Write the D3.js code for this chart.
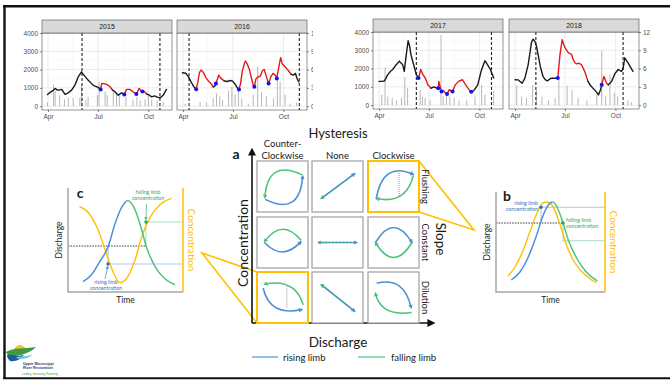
<!DOCTYPE html>
<html>
<head>
<meta charset="utf-8">
<script src="https://cdn.jsdelivr.net/npm/d3@7"></script>
<style>
  body { margin: 0; background: #fff; }
  svg { display: block; }
</style>
</head>
<body>
<script>
const W = 670, H = 380;
const ggFont = "Liberation Sans, Arial, sans-serif";
const dgFont = "Lato, Open Sans, sans-serif";

// ---------- hydrograph data (day of year, discharge) ----------
const monthDays = [91, 182, 274];
const monthLabels = ["Apr", "Jul", "Oct"];
const flowTicks = [0, 1000, 2000, 3000, 4000];
const rainTicks = [0, 3, 6, 9, 12];

const days2015 = [90, 96, 101, 104, 107, 110, 116, 122, 128, 134, 140, 146, 152, 155, 158, 164, 173, 182, 187, 189, 193, 198, 204, 208, 213, 219, 225, 230, 234, 240, 246, 252, 257, 262, 266, 271, 276, 280, 285, 289, 295, 301, 307];
const flow2015 = [640, 780, 877, 970, 900, 877, 915, 640, 730, 877, 1150, 1600, 1880, 1750, 1640, 1425, 1150, 1025, 915, 1240, 1230, 1190, 1060, 900, 785, 600, 730, 640, 915, 915, 785, 660, 970, 800, 820, 660, 600, 510, 560, 510, 455, 600, 915];
const red2015 = [[187, 206], [230, 272]];
const blue2015 = [187, 230, 252, 263];
const rainDays2015 = [90, 101, 104, 112, 121, 128, 137, 149, 152, 160, 164, 181, 184, 195, 199, 210, 216, 221, 233, 246, 253, 259, 268, 274, 280, 290, 301];
const rain2015 = [0.6, 3.5, 2.5, 1.8, 1.1, 1.4, 1.3, 1.4, 3.4, 1.0, 1.5, 1.8, 4.0, 2.4, 1.8, 2.6, 2.2, 1.8, 1.5, 1.1, 1.5, 0.9, 1.1, 1.8, 1.1, 0.9, 0.7];
const dashed2015 = [153, 295];

const days2016 = [90, 96, 101, 106, 111, 115, 118, 121, 124, 128, 133, 138, 143, 146, 149, 151, 154, 156, 159, 163, 166, 171, 176, 181, 186, 190, 193, 196, 199, 203, 205, 208, 212, 216, 219, 221, 224, 228, 232, 236, 239, 243, 247, 251, 255, 259, 262, 266, 269, 272, 277, 283, 288, 292, 296, 299, 302];
const flow2016 = [1825, 1800, 1600, 1300, 1050, 930, 1300, 1850, 1970, 1850, 1550, 1350, 1200, 1050, 1100, 1240, 1500, 1700, 1560, 1450, 1380, 1350, 1400, 1380, 1200, 1000, 915, 1250, 1900, 2350, 2470, 2300, 2000, 1500, 1150, 1060, 1500, 1600, 1650, 1950, 2010, 1600, 1240, 1600, 1790, 1700, 1515, 2200, 2650, 2300, 2150, 1950, 1740, 1700, 1790, 1500, 1330];
const red2016 = [[115, 145], [151, 165], [193, 288]];
const blue2016 = [115, 151, 193, 221, 247, 262];
const rainDays2016 = [95, 122, 134, 146, 152, 158, 163, 174, 180, 186, 192, 198, 210, 219, 227, 234, 243, 256, 263, 268, 277, 286, 298];
const rain2016 = [0.4, 0.7, 0.6, 1.3, 2.1, 1.6, 1.0, 2.6, 3.2, 1.9, 2.6, 1.3, 0.4, 1.9, 6.5, 2.3, 1.6, 1.3, 5.6, 4.0, 1.9, 0.4, 0.6];
const dashed2016 = [102, 303];

const days2017 = [91, 97, 101, 107, 112, 116, 122, 128, 131, 134, 137, 140, 144, 147, 149, 154, 159, 163, 165, 167, 171, 175, 180, 186, 191, 197, 199, 200, 202, 205, 208, 211, 215, 219, 222, 225, 230, 236, 243, 247, 253, 258, 261, 265, 271, 277, 284, 289, 294, 300];
const flow2017 = [1300, 1310, 1330, 1670, 1850, 1950, 2200, 2410, 2300, 2220, 1850, 2600, 3520, 3200, 2780, 2220, 1670, 1480, 1700, 1950, 1670, 1500, 1110, 930, 1000, 930, 930, 1300, 1050, 740, 800, 700, 610, 850, 780, 740, 1110, 1300, 1390, 1200, 930, 740, 720, 850, 1110, 1850, 2430, 2200, 1950, 1480];
const red2017 = [[163, 184], [199, 259]];
const blue2017 = [163, 199, 205, 215, 225, 259];
const rainDays2017 = [96, 102, 107, 115, 123, 132, 138, 143, 166, 170, 175, 184, 204, 208, 214, 220, 228, 237, 251, 266, 278, 284, 300];
const rain2017 = [1.7, 6.2, 1.4, 1.2, 0.8, 1.2, 4.6, 2.8, 2.5, 1.4, 1.2, 0.8, 11.5, 1.4, 2.0, 1.4, 1.2, 0.8, 0.8, 1.4, 3.3, 1.7, 2.3];
const dashed2017 = [159, 296];

const days2018 = [91, 97, 104, 109, 115, 121, 124, 127, 130, 137, 142, 146, 150, 154, 158, 163, 169, 173, 177, 180, 182, 188, 194, 197, 200, 204, 207, 212, 218, 224, 228, 233, 239, 243, 247, 249, 253, 258, 261, 264, 267, 273, 279, 285, 288, 291, 297, 306];
const flow2018 = [1390, 1380, 1200, 1480, 2220, 3430, 3610, 3500, 3240, 2130, 1570, 1400, 1330, 1420, 1480, 1470, 1480, 2780, 3580, 3300, 3150, 2870, 2780, 2500, 2320, 2250, 2300, 2220, 1850, 1300, 1100, 930, 740, 560, 850, 1110, 1570, 1200, 1110, 1200, 1300, 1720, 1950, 1850, 2000, 2590, 2310, 1850];
const red2018 = [[169, 222], [249, 262]];
const blue2018 = [169, 249];
const rainDays2018 = [94, 103, 112, 123, 130, 140, 152, 164, 171, 186, 195, 206, 222, 240, 249, 256, 264, 272, 278, 297, 303];
const rain2018 = [3.2, 1.4, 1.2, 3.3, 2.5, 1.4, 0.8, 1.2, 4.2, 3.2, 2.5, 1.2, 0.8, 1.7, 8.9, 1.4, 5.0, 2.0, 1.4, 0.8, 0.5];
const dashed2018 = [129, 288];

const years = [
  { year: "2015", days: days2015, flow: flow2015, red: red2015, blue: blue2015, rainDays: rainDays2015, rain: rain2015, dashed: dashed2015 },
  { year: "2016", days: days2016, flow: flow2016, red: red2016, blue: blue2016, rainDays: rainDays2016, rain: rain2016, dashed: dashed2016 },
  { year: "2017", days: days2017, flow: flow2017, red: red2017, blue: blue2017, rainDays: rainDays2017, rain: rain2017, dashed: dashed2017 },
  { year: "2018", days: days2018, flow: flow2018, red: red2018, blue: blue2018, rainDays: rainDays2018, rain: rain2018, dashed: dashed2018 }
];

// ---------- conceptual diagram data ----------
const colLabels = [["Counter-", "Clockwise"], ["None"], ["Clockwise"]];
const rowLabels = ["Flushing", "Constant", "Dilution"];
// quadratic arcs in unit box space: [x0, y0, cx, cy, x1, y1]
const risingArcs = [
  [0.10, 0.20, 0.90, -0.20, 0.97, 0.74], null, [0.10, 0.22, 0.25, 1.10, 0.96, 0.78],
  [0.08, 0.50, 0.50, 0.05, 0.93, 0.52], null, [0.08, 0.50, 0.50, 1.20, 0.93, 0.50],
  [0.05, 0.72, 0.20, 0.05, 0.95, 0.22], null, [0.11, 0.83, 0.75, 1.00, 0.91, 0.26]
];
const fallingArcs = [
  [0.96, 0.77, 0.15, 1.15, 0.09, 0.24], null, [0.96, 0.76, 0.80, 0.08, 0.10, 0.22],
  [0.93, 0.55, 0.50, 1.08, 0.08, 0.52], null, [0.93, 0.50, 0.50, -0.20, 0.08, 0.50],
  [0.98, 0.33, 0.80, 0.95, 0.08, 0.81], null, [0.92, 0.15, 0.20, 0.05, 0.08, 0.60]
];
const noneLines = [[0.12, 0.22, 0.90, 0.80], [0.05, 0.50, 0.95, 0.50], [0.12, 0.80, 0.90, 0.18]];
const dottedLinks = [[2, 0.63, 0.28, 0.84], [6, 0.60, 0.27, 0.76]];
const highlighted = [2, 6];

// panel c (counter-clockwise dilution)
const cDischT = [1.3, 2.0, 2.7, 3.5, 4.1, 4.7, 5.2, 5.7, 6.3, 6.8, 7.6, 8.4, 9.3];
const cDisch = [1.0, 1.6, 2.8, 4.4, 6.6, 8.2, 8.8, 8.2, 6.4, 4.4, 2.4, 1.3, 0.7];
const cConcT = [1.0, 1.8, 2.6, 3.3, 3.9, 4.5, 5.1, 5.8, 6.5, 7.2, 8.0, 9.0];
const cConc = [8.2, 7.6, 6.0, 3.8, 2.0, 0.9, 1.3, 3.0, 5.6, 7.3, 8.4, 9.0];
const cPeak = 5.2, cThresh = 4.42, cRise = [3.48, 2.69], cFall = [6.78, 6.73];

// panel b (clockwise flushing)
const bDischT = [1.4, 2.2, 3.0, 3.7, 4.3, 4.8, 5.2, 5.6, 6.15, 6.7, 7.4, 8.2, 9.3];
const bDisch = [1.2, 2.0, 3.6, 5.6, 7.6, 8.7, 9.0, 8.5, 6.9, 5.0, 3.4, 2.1, 1.1];
const bConcT = [1.1, 1.8, 2.5, 3.2, 3.8, 4.3, 4.7, 5.2, 5.8, 6.5, 7.3, 8.2, 9.2];
const bConc = [1.6, 2.6, 4.2, 6.3, 8.0, 8.9, 9.0, 8.6, 7.0, 4.6, 2.8, 1.7, 0.9];
const bPeak = 5.2, bThresh = 6.9, bRise = [4.13, 8.47], bFall = [6.15, 6.9, 5.13];

const BLUE = "#4f90d6", GREEN = "#4fc27c", GOLD = "#ffc000";
const LBLUE = "#a9c9ec", LGREEN = "#a8e0bd";

const svg = d3.select("body").append("svg").attr("width", W).attr("height", H);
const defs = svg.append("defs");

function marker(id, color, size) {
  defs.append("marker")
    .attr("id", id)
    .attr("viewBox", "0 0 10 10")
    .attr("refX", 7).attr("refY", 5)
    .attr("markerUnits", "userSpaceOnUse")
    .attr("markerWidth", size).attr("markerHeight", size)
    .attr("orient", "auto-start-reverse")
    .append("path").attr("d", "M0,0 L10,5 L0,10 z").attr("fill", color);
}
marker("arBlue", BLUE, 4.5);
marker("arGreen", GREEN, 4.5);
marker("arBlack", "#111", 8);
marker("arSmallBlue", BLUE, 3.5);
marker("arSmallGreen", GREEN, 3.5);

// ---------- hydrograph panels ----------
function styleAxis(sel) {
  sel.select(".domain").remove();
  sel.selectAll(".tick line").attr("stroke", "#333").attr("stroke-width", 0.6);
  sel.selectAll(".tick text").attr("fill", "#4d4d4d")
    .style("font-size", "6.5px").style("font-family", ggFont);
}

function hydroPanel(g, d, x0, top, showLeft, showRight) {
  const pw = 130, ph = 77;
  const x = d3.scaleLinear().domain([80, 317]).range([x0, x0 + pw]);
  const y = d3.scaleLinear().domain([-210, 4000]).range([top + ph, top]);
  const yr = d3.scaleLinear().domain([-210 * 12 / 4000, 12]).range([top + ph, top]);

  g.append("rect").attr("x", x0).attr("y", top).attr("width", pw).attr("height", ph).attr("fill", "#fff");
  // grid
  g.selectAll(null).data([500, 1500, 2500, 3500]).enter().append("line")
    .attr("x1", x0).attr("x2", x0 + pw).attr("y1", d => y(d)).attr("y2", d => y(d))
    .attr("stroke", "#f2f2f2").attr("stroke-width", 0.5);
  g.selectAll(null).data([136, 228]).enter().append("line")
    .attr("y1", top).attr("y2", top + ph).attr("x1", d => x(d)).attr("x2", d => x(d))
    .attr("stroke", "#f2f2f2").attr("stroke-width", 0.5);
  g.selectAll(null).data(flowTicks).enter().append("line")
    .attr("x1", x0).attr("x2", x0 + pw).attr("y1", d => y(d)).attr("y2", d => y(d))
    .attr("stroke", "#e6e6e6").attr("stroke-width", 0.8);
  g.selectAll(null).data(monthDays).enter().append("line")
    .attr("y1", top).attr("y2", top + ph).attr("x1", d => x(d)).attr("x2", d => x(d))
    .attr("stroke", "#e6e6e6").attr("stroke-width", 0.8);

  // rain bars
  g.selectAll(null).data(d.rainDays).enter().append("rect")
    .attr("x", t => x(t) - 0.5).attr("width", 1)
    .attr("y", (t, i) => yr(d.rain[i])).attr("height", (t, i) => yr(0) - yr(d.rain[i]))
    .attr("fill", "#9a9a9a").attr("opacity", 0.7);

  // event bounds
  g.selectAll(null).data(d.dashed).enter().append("line")
    .attr("x1", t => x(t)).attr("x2", t => x(t)).attr("y1", top).attr("y2", top + ph)
    .attr("stroke", "#222").attr("stroke-width", 1.1).attr("stroke-dasharray", "3,2");

  // discharge, coloured by event
  const pts = d.days.map((t, i) => [t, d.flow[i]]);
  const inRed = m => d.red.some(r => m >= r[0] && m <= r[1]);
  const runs = [];
  let cur = null;
  for (let i = 0; i < pts.length - 1; i++) {
    const c = inRed((pts[i][0] + pts[i + 1][0]) / 2) ? "#e3191c" : "#1a1a1a";
    if (!cur || cur.color !== c) { cur = { color: c, pts: [pts[i]] }; runs.push(cur); }
    cur.pts.push(pts[i + 1]);
  }
  const line = d3.line().x(p => x(p[0])).y(p => y(p[1]));
  g.selectAll(null).data(runs).enter().append("path")
    .attr("d", r => line(r.pts)).attr("fill", "none")
    .attr("stroke", r => r.color).attr("stroke-width", 1.4)
    .attr("stroke-linejoin", "round").attr("stroke-linecap", "round");

  const flowAt = t => {
    const i = Math.max(1, d3.bisectLeft(d.days, t));
    const t0 = d.days[i - 1], t1 = d.days[i];
    return d.flow[i - 1] + (d.flow[i] - d.flow[i - 1]) * (t - t0) / (t1 - t0);
  };
  g.selectAll(null).data(d.blue).enter().append("circle")
    .attr("cx", t => x(t)).attr("cy", t => y(flowAt(t))).attr("r", 2)
    .attr("fill", "#1010ff");

  g.append("rect").attr("x", x0).attr("y", top).attr("width", pw).attr("height", ph)
    .attr("fill", "none").attr("stroke", "#4d4d4d").attr("stroke-width", 0.6);

  // strip
  g.append("rect").attr("x", x0).attr("y", top - 13).attr("width", pw).attr("height", 13)
    .attr("fill", "#d9d9d9").attr("stroke", "#4d4d4d").attr("stroke-width", 0.6);
  g.append("text").attr("x", x0 + pw / 2).attr("y", top - 4.2).attr("text-anchor", "middle")
    .style("font-family", ggFont).style("font-size", "7px").attr("fill", "#1a1a1a").text(d.year);

  const ax = g.append("g").attr("transform", `translate(0,${top + ph})`)
    .call(d3.axisBottom(x).tickValues(monthDays).tickFormat((v, i) => monthLabels[i]).tickSize(2).tickPadding(2));
  styleAxis(ax);
  if (showLeft) {
    const ay = g.append("g").attr("transform", `translate(${x0},0)`)
      .call(d3.axisLeft(y).tickValues(flowTicks).tickFormat(d3.format("d")).tickSize(2).tickPadding(2));
    styleAxis(ay);
  }
  if (showRight) {
    const ar = g.append("g").attr("transform", `translate(${x0 + pw},0)`)
      .call(d3.axisRight(yr).tickValues(rainTicks).tickFormat(d3.format("d")).tickSize(2).tickPadding(2));
    styleAxis(ar);
  }
}

defs.append("clipPath").attr("id", "clipPair1").append("rect")
  .attr("x", 0).attr("y", 0).attr("width", 313).attr("height", 130);
const pair1 = svg.append("g").attr("clip-path", "url(#clipPair1)");
hydroPanel(pair1, years[0], 42, 33, true, false);
hydroPanel(pair1, years[1], 177, 33, false, true);
const pair2 = svg.append("g");
hydroPanel(pair2, years[2], 373, 32, true, false);
hydroPanel(pair2, years[3], 509, 32, false, true);

// ---------- panel a : hysteresis grid ----------
const cellX = [257, 312, 368], cellY = [161, 217, 272], cell = 51;
const ga = svg.append("g");

// callout triangles to b and c
const callouts = ga.append("g").attr("stroke", GOLD).attr("stroke-width", 1.6).attr("fill", "none");
callouts.append("path").attr("d", `M${cellX[2] + cell},${cellY[0]} L474,230 L${cellX[2] + cell},${cellY[0] + cell}`);
callouts.append("path").attr("d", `M${cellX[0]},${cellY[2]} L202,253 L${cellX[0]},${cellY[2] + cell}`);

ga.append("line").attr("x1", 252).attr("y1", 323).attr("x2", 252).attr("y2", 150)
  .attr("stroke", "#111").attr("stroke-width", 1.6).attr("marker-end", "url(#arBlack)");
ga.append("line").attr("x1", 252).attr("y1", 323).attr("x2", 433).attr("y2", 323)
  .attr("stroke", "#111").attr("stroke-width", 1.6).attr("marker-end", "url(#arBlack)");

d3.range(9).forEach(k => {
  const ci = k % 3, ri = Math.floor(k / 3);
  const bx = cellX[ci], by = cellY[ri];
  const u = d3.scaleLinear().domain([0, 1]).range([bx + 4, bx + 47]);
  const v = d3.scaleLinear().domain([0, 1]).range([by + 47, by + 4]);
  const hl = highlighted.includes(k);
  ga.append("rect").attr("x", bx).attr("y", by).attr("width", cell).attr("height", cell)
    .attr("fill", "#fff").attr("stroke", hl ? GOLD : "#a6a6a6").attr("stroke-width", hl ? 2 : 1.3);

  const arc = a => {
    const p = d3.path();
    p.moveTo(u(a[0]), v(a[1]));
    p.quadraticCurveTo(u(a[2]), v(a[3]), u(a[4]), v(a[5]));
    return p.toString();
  };
  if (risingArcs[k]) {
    dottedLinks.filter(l => l[0] === k).forEach(l => {
      ga.append("line").attr("x1", u(l[1])).attr("x2", u(l[1])).attr("y1", v(l[2])).attr("y2", v(l[3]))
        .attr("stroke", "#777").attr("stroke-width", 0.8).attr("stroke-dasharray", "1,1");
    });
    ga.append("path").attr("d", arc(fallingArcs[k])).attr("fill", "none")
      .attr("stroke", GREEN).attr("stroke-width", 1.6).attr("marker-end", "url(#arGreen)");
    ga.append("path").attr("d", arc(risingArcs[k])).attr("fill", "none")
      .attr("stroke", BLUE).attr("stroke-width", 1.6).attr("marker-end", "url(#arBlue)");
  } else {
    const l = noneLines[ri];
    ga.append("line").attr("x1", u(l[0])).attr("y1", v(l[1])).attr("x2", u(l[2])).attr("y2", v(l[3]))
      .attr("stroke", GREEN).attr("stroke-width", 1.6)
      .attr("marker-start", "url(#arGreen)");
    ga.append("line").attr("x1", u(l[0])).attr("y1", v(l[1])).attr("x2", u(l[2])).attr("y2", v(l[3]))
      .attr("stroke", BLUE).attr("stroke-width", 1.3).attr("stroke-dasharray", ri === 1 ? "2,1.5" : null)
      .attr("marker-end", "url(#arBlue)");
  }
});

const txt = (x, y, s, size, opts = {}) => {
  const t = svg.append("text").attr("x", x).attr("y", y).text(s)
    .style("font-family", opts.font || dgFont).style("font-size", size + "px")
    .attr("fill", opts.fill || "#1a1a1a").attr("text-anchor", opts.anchor || "middle");
  if (opts.bold) t.style("font-weight", "bold");
  if (opts.rot) t.attr("transform", `rotate(${opts.rot},${x},${y})`).attr("dominant-baseline", "central");
  return t;
};

txt(338, 138, "Hysteresis", 13);
txt(236, 159, "a", 14, { bold: true });
colLabels.forEach((lab, i) => {
  const cx = cellX[i] + cell / 2;
  lab.forEach((s, j) => txt(cx, 158.5 - (lab.length - 1 - j) * 11.5, s, 9.5));
});
rowLabels.forEach((s, i) => txt(425, cellY[i] + cell / 2, s, 9.5, { rot: 90 }));
txt(441, 239, "Slope", 13.5, { rot: 90 });
txt(242, 243, "Concentration", 14, { rot: -90 });
txt(338, 347, "Discharge", 13.5);

// legend
svg.append("line").attr("x1", 252).attr("x2", 278).attr("y1", 357).attr("y2", 357).attr("stroke", "#6fa8dc").attr("stroke-width", 1.5);
txt(283, 360.5, "rising limb", 9.5, { anchor: "start" });
svg.append("line").attr("x1", 358).attr("x2", 385).attr("y1", 357).attr("y2", 357).attr("stroke", "#6fd39a").attr("stroke-width", 1.5);
txt(391, 360.5, "falling limb", 9.5, { anchor: "start" });

// ---------- panels b and c ----------
function sketchPanel(p) {
  const g = svg.append("g");
  const x = d3.scaleLinear().domain([0, 10]).range([p.x0, p.x1]);
  const y = d3.scaleLinear().domain([0, 10]).range([p.y1, p.y0]);
  const line = d3.line().x(d => x(d[0])).y(d => y(d[1])).curve(d3.curveMonotoneX);
  const clipA = p.id + "rise", clipB = p.id + "fall";
  defs.append("clipPath").attr("id", clipA).append("rect")
    .attr("x", p.x0).attr("y", p.y0 - 5).attr("width", x(p.peak) - p.x0).attr("height", p.y1 - p.y0 + 10);
  defs.append("clipPath").attr("id", clipB).append("rect")
    .attr("x", x(p.peak)).attr("y", p.y0 - 5).attr("width", p.x1 - x(p.peak)).attr("height", p.y1 - p.y0 + 10);

  // guide lines
  g.append("line").attr("x1", x(0)).attr("x2", x(p.threshEnd)).attr("y1", y(p.thresh)).attr("y2", y(p.thresh))
    .attr("stroke", "#222").attr("stroke-width", 0.9).attr("stroke-dasharray", "1.5,1.2");
  g.append("polyline").attr("points", [[p.rise[0], p.thresh], p.rise, [10, p.rise[1]]].map(q => [x(q[0]), y(q[1])].join(",")).join(" "))
    .attr("fill", "none").attr("stroke", LBLUE).attr("stroke-width", 1.1);
  g.append("polyline").attr("points", [[p.fall[0], p.thresh], [p.fall[0], p.fallLevel], [10, p.fallLevel]].map(q => [x(q[0]), y(q[1])].join(",")).join(" "))
    .attr("fill", "none").attr("stroke", LGREEN).attr("stroke-width", 1.1);

  g.append("path").attr("d", line(p.concT.map((t, i) => [t, p.conc[i]])))
    .attr("fill", "none").attr("stroke", GOLD).attr("stroke-width", 1.4);
  const q = p.dischT.map((t, i) => [t, p.disch[i]]);
  g.append("path").attr("d", line(q)).attr("clip-path", `url(#${clipA})`)
    .attr("fill", "none").attr("stroke", BLUE).attr("stroke-width", 1.5);
  g.append("path").attr("d", line(q)).attr("clip-path", `url(#${clipB})`)
    .attr("fill", "none").attr("stroke", GREEN).attr("stroke-width", 1.5);

  g.append("circle").attr("cx", x(p.rise[0])).attr("cy", y(p.rise[1])).attr("r", 1.7).attr("fill", "#2f6fc0");
  g.append("circle").attr("cx", x(p.fall[0])).attr("cy", y(p.fall[1])).attr("r", 1.7).attr("fill", "#22a855");

  // axes
  g.append("polyline").attr("points", `${p.x0},${p.y0} ${p.x0},${p.y1} ${p.x1},${p.y1}`)
    .attr("fill", "none").attr("stroke", "#a6a6a6").attr("stroke-width", 1.5);
  g.append("line").attr("x1", p.x1).attr("x2", p.x1).attr("y1", p.y0).attr("y2", p.y1)
    .attr("stroke", GOLD).attr("stroke-width", 1.5);

  txt(p.x0 + p.lab[0], p.y0 + p.lab[1], p.id, 14, { bold: true });
  txt(p.x0 - 9, (p.y0 + p.y1) / 2, "Discharge", 8.5, { rot: -90 });
  txt((p.x0 + p.x1) / 2, p.y1 + 10.5, "Time", 8.5);
  txt(p.x1 + 9, (p.y0 + p.y1) / 2, "Concentration", 10, { rot: 90, fill: GOLD });
  return { g, x, y };
}

const pc = sketchPanel({
  id: "c", x0: 68, x1: 183, y0: 188, y1: 292, lab: [12, 10],
  dischT: cDischT, disch: cDisch, concT: cConcT, conc: cConc, peak: cPeak,
  thresh: cThresh, threshEnd: cFall[0], rise: cRise, fall: cFall, fallLevel: cFall[1]
});
const pb = sketchPanel({
  id: "b", x0: 496, x1: 605, y0: 192, y1: 292, lab: [11, 9],
  dischT: bDischT, disch: bDisch, concT: bConcT, conc: bConc, peak: bPeak,
  thresh: bThresh, threshEnd: bFall[0], rise: bRise, fall: bFall.slice(0, 2), fallLevel: bFall[2]
});

// small annotations
const small = (x, y, lines, fill, anchor) => lines.forEach((s, i) =>
  txt(x, y + i * 6.2, s, 5.3, { fill, anchor }));
small(148, 194, ["falling limb", "concentration"], "#2fae63", "middle");
small(106, 283.5, ["rising limb", "concentration"], "#3b75c4", "middle");
small(538, 205, ["rising limb", "concentration"], "#3b75c4", "end");
small(566, 222, ["falling limb", "concentration"], "#2fae63", "start");
svg.append("line").attr("x1", pc.x(cFall[0]) + 0.5).attr("y1", 204).attr("x2", pc.x(cFall[0])).attr("y2", pc.y(cFall[1]) - 2.5)
  .attr("stroke", GREEN).attr("stroke-width", 0.8).attr("marker-end", "url(#arSmallGreen)");
svg.append("line").attr("x1", 105).attr("y1", 279).attr("x2", pc.x(cRise[0]) - 0.3).attr("y2", pc.y(cRise[1]) + 2.5)
  .attr("stroke", BLUE).attr("stroke-width", 0.8).attr("marker-end", "url(#arSmallBlue)");

// ---------- logo ----------
const logo = svg.append("g");
logo.append("path").attr("d", "M14,351 A6,6 0 0 1 26,351 Z").attr("fill", "#f4c430");
logo.append("path").attr("d", "M6,352 C14,347 24,349 36,347 C31,352 24,355 14,356 C10,356 7,355 6,352 Z").attr("fill", "#3f9a45");
logo.append("path").attr("d", "M7,355 C12,354 17,357 24,355 C21,359 16,362 10,361 C8,359 7,357 7,355 Z").attr("fill", "#1d5aa6");
logo.append("path").attr("d", "M16,357 C22,356 28,357 33,354 C30,358 24,359 18,359 Z").attr("fill", "#6cc0e6");
["Upper Mississippi", "River Restoration"].forEach((s, i) =>
  logo.append("text").attr("x", 23).attr("y", 364.5 + i * 4).text(s)
    .style("font-family", ggFont).style("font-size", "3.6px").style("font-weight", "bold").attr("fill", "#1d3f7a"));
logo.append("text").attr("x", 22).attr("y", 375).text("Leading, Innovating, Partnering")
  .style("font-family", ggFont).style("font-size", "2.6px").attr("fill", "#4a9a4a");

// ---------- outer frame ----------
const frame = svg.append("g").attr("stroke", "#111").attr("fill", "none");
frame.append("line").attr("x1", 3).attr("x2", W).attr("y1", 6.3).attr("y2", 6.3).attr("stroke-width", 2.6);
frame.append("line").attr("x1", 4.5).attr("x2", 4.5).attr("y1", 5).attr("y2", 379).attr("stroke-width", 2.4);
frame.append("line").attr("x1", 3).attr("x2", W).attr("y1", 378.3).attr("y2", 378.3).attr("stroke-width", 2);
</script>
</body>
</html>
